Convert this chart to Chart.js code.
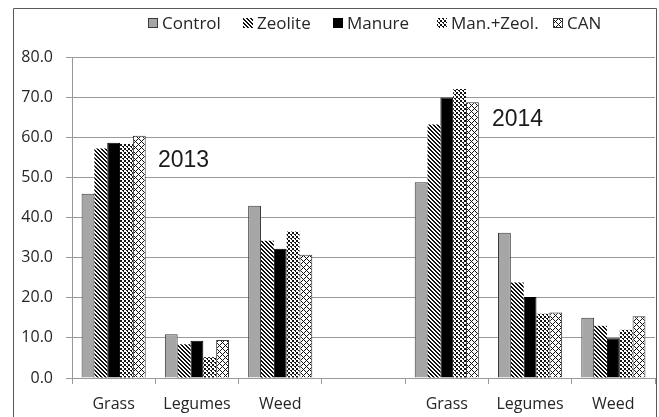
<!DOCTYPE html>
<html>
<head>
<meta charset="utf-8">
<script src="https://cdn.jsdelivr.net/npm/chart.js@4.4.1/dist/chart.umd.min.js"></script>
<style>
html,body{margin:0;padding:0;background:#fff;}
#wrap{width:659px;height:417px;position:relative;}
</style>
</head>
<body>
<div id="wrap"><canvas id="c" width="659" height="417"></canvas></div>
<script>
// ---- data ----
const categories = ['Grass', 'Legumes', 'Weed', '', 'Grass', 'Legumes', 'Weed'];
const seriesNames = ['Control', 'Zeolite', 'Manure', 'Man.+Zeol.', 'CAN'];
const control = [45.9, 10.9, 42.9, null, 48.8, 36.2, 15.0];
const zeolite = [57.2, 8.4, 34.2, null, 63.2, 23.8, 13.0];
const manure  = [58.6, 9.3, 32.2, null, 69.9, 20.2, 9.9];
const manZeol = [58.3, 5.2, 36.5, null, 72.0, 16.0, 12.0];
const can     = [60.4, 9.5, 30.7, null, 68.7, 16.3, 15.4];
const yearLabels = ['2013', '2014'];
const yTicks = [0, 10, 20, 30, 40, 50, 60, 70, 80];

// ---- patterns ----
function makePattern(size, fn) {
  const cv = document.createElement('canvas');
  cv.width = size; cv.height = size;
  const cx = cv.getContext('2d');
  cx.fillStyle = '#fff'; cx.fillRect(0, 0, size, size);
  cx.fillStyle = '#111';
  for (let x = 0; x < size; x++) for (let y = 0; y < size; y++) if (fn(x, y)) cx.fillRect(x, y, 1, 1);
  return cx.createPattern(cv, 'repeat');
}
const ctx = document.getElementById('c').getContext('2d');
const patZeolite = makePattern(4, (x, y) => ((x - y + 8) % 4) < 2);
const patManZeol = makePattern(4, (x, y) => (y === 0 && x < 2) || (y === 1 && x < 2) || (y === 2 && x === 2) || (y === 3 && x === 3) || (y === 2 && x === 3));
const patCAN = makePattern(6, (x, y) => ((x + y) % 6) === 0 || ((x - y + 12) % 6) === 0);

const fills = ['#a6a6a6', patZeolite, '#000000', patManZeol, patCAN];
const borders = ['#3a3a3a', '#444', '#000', '#555', '#333'];
const borderW = [1, 0, 1, 0, 1];
const values = [control, zeolite, manure, manZeol, can];
const legendX = [148, 243, 333, 437, 553];

const FONT = '"Open Sans", "Liberation Sans", sans-serif';
const TXT = '#262626';

const decor = {
  id: 'decor',
  afterDraw(chart) {
    const c = chart.ctx;
    c.save();
    // frame
    c.strokeStyle = '#595959'; c.lineWidth = 1;
    c.beginPath();
    c.moveTo(13.5, 430); c.lineTo(13.5, 8.5); c.lineTo(656.5, 8.5); c.lineTo(656.5, 430);
    c.stroke();
    // legend
    c.font = '17px ' + FONT;
    c.textBaseline = 'middle';
    const yMid = 23;
    chart.data.datasets.forEach((ds, i) => {
      const x = legendX[i];
      c.fillStyle = ds.backgroundColor;
      c.fillRect(x, yMid - 5, 10, 10);
      if (ds.borderWidth) { c.strokeStyle = ds.borderColor; c.lineWidth = 1; c.strokeRect(x + 0.5, yMid - 4.5, 9, 9); }
      c.fillStyle = TXT;
      c.fillText(ds.label, x + 14, yMid + 1);
    });
    // year annotations
    c.font = '23px "Liberation Sans", Arial, sans-serif';
    c.fillStyle = '#1a1a1a';
    c.textBaseline = 'middle';
    c.fillText(yearLabels[0], 158, 161);
    c.fillText(yearLabels[1], 492, 120);
    c.restore();
  }
};

new Chart(ctx, {
  type: 'bar',
  data: {
    labels: categories,
    datasets: seriesNames.map((n, i) => ({
      label: n,
      data: values[i],
      backgroundColor: fills[i],
      borderColor: borders[i],
      borderWidth: borderW[i],
      categoryPercentage: 0.77,
      barPercentage: 1.0
    }))
  },
  options: {
    responsive: false,
    animation: false,
    layout: { padding: { top: 57, right: 4, left: 0, bottom: 0 } },
    plugins: { legend: { display: false }, tooltip: { enabled: false } },
    scales: {
      x: {
        grid: { drawOnChartArea: false, drawTicks: true, tickLength: 6, color: '#999', offset: true },
        border: { display: true, color: '#999', width: 1 },
        ticks: { color: TXT, font: { family: FONT, size: 16 }, padding: 11, maxRotation: 0, autoSkip: false },
        afterFit(s) { s.height = 39; }
      },
      y: {
        min: 0, max: 80,
        afterBuildTicks(s) { s.ticks = yTicks.map(v => ({ value: v })); },
        grid: { color: '#9a9a9a', lineWidth: 1, tickLength: 6, drawTicks: true },
        border: { display: true, color: '#999', width: 1 },
        ticks: { color: TXT, font: { family: FONT, size: 16 }, padding: 13, callback: v => Number(v).toFixed(1) },
        afterFit(s) { s.width = 72; }
      }
    }
  },
  plugins: [decor]
});
</script>
</body>
</html>
